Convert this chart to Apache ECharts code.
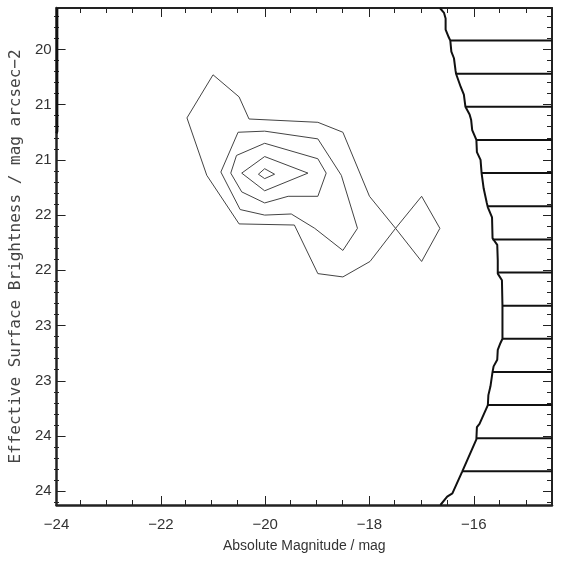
<!DOCTYPE html>
<html>
<head>
<meta charset="utf-8">
<script src="https://cdn.jsdelivr.net/npm/echarts@6/dist/echarts.min.js"></script>
<style>
body { margin: 0; padding: 0; background: #fff; }
#chart { width: 561px; height: 563px; }
</style>
</head>
<body>
<div id="chart"></div>
<script>
// axis extents and tick positions
const xRange = [-24, -14.5];
const yRange = [19.625, 24.125];
const xMajorTicks = [-24, -22, -20, -18, -16];
const yMajorTicks = [20, 20.5, 21, 21.5, 22, 22.5, 23, 23.5, 24];

// density contours, [absolute mag, surface brightness], outer to inner
const contour1 = [
  [-21.00, 20.23], [-20.50, 20.43], [-20.31, 20.63], [-18.99, 20.66], [-18.51, 20.75],
  [-18.00, 21.33], [-17.50, 21.62], [-17.00, 21.92], [-16.65, 21.62], [-17.00, 21.33],
  [-17.50, 21.62], [-17.99, 21.92], [-18.51, 22.06], [-18.99, 22.03], [-19.44, 21.59],
  [-20.50, 21.58], [-21.12, 21.14], [-21.50, 20.62], [-21.00, 20.23]
];
const contour2 = [
  [-20.52, 20.75], [-20.01, 20.74], [-18.99, 20.81], [-18.54, 21.14], [-18.23, 21.62],
  [-18.51, 21.82], [-19.05, 21.62], [-19.50, 21.49], [-20.01, 21.50], [-20.48, 21.45],
  [-20.85, 21.11], [-20.52, 20.75]
];
const contour3 = [
  [-20.55, 20.96], [-20.01, 20.85], [-18.99, 20.99], [-18.83, 21.12], [-18.99, 21.33],
  [-19.56, 21.33], [-20.01, 21.39], [-20.45, 21.29], [-20.66, 21.12], [-20.55, 20.96]
];
const contour4 = [
  [-20.01, 20.97], [-19.18, 21.12], [-20.01, 21.28], [-20.45, 21.12], [-20.01, 20.97]
];
const contour5 = [
  [-20.01, 21.08], [-19.82, 21.13], [-20.01, 21.17], [-20.13, 21.13], [-20.01, 21.08]
];

// faint-end selection limit (right) and bright-end limit (left)
const faintLimit = [
  [-16.65, 19.625], [-16.57, 19.67], [-16.54, 19.72], [-16.54, 19.82], [-16.48, 19.89],
  [-16.45, 19.92], [-16.43, 20.02], [-16.38, 20.08], [-16.35, 20.19], [-16.34, 20.22],
  [-16.25, 20.34], [-16.19, 20.41], [-16.16, 20.52], [-16.08, 20.59], [-16.05, 20.64],
  [-16.03, 20.73], [-15.95, 20.82], [-15.94, 20.93], [-15.87, 21.00], [-15.85, 21.12],
  [-15.81, 21.26], [-15.75, 21.39], [-15.73, 21.43], [-15.65, 21.52], [-15.64, 21.71],
  [-15.55, 21.77], [-15.54, 21.91], [-15.54, 22.03], [-15.46, 22.09], [-15.45, 22.32],
  [-15.45, 22.62], [-15.49, 22.66], [-15.54, 22.72], [-15.55, 22.81], [-15.62, 22.87],
  [-15.64, 22.92], [-15.68, 23.05], [-15.72, 23.13], [-15.73, 23.22], [-15.89, 23.39],
  [-15.94, 23.42], [-15.95, 23.53], [-16.22, 23.82], [-16.41, 24.02], [-16.51, 24.05],
  [-16.64, 24.125]
];
const brightLimit = [[-23.99, 19.625], [-23.99, 20.74], [-24.0, 20.76]];

// hatching to the right of the faint limit
const hatchY = [19.92, 20.22, 20.52, 20.82, 21.12, 21.42, 21.72, 22.02, 22.32, 22.62, 22.92, 23.22, 23.52, 23.82];
const hatchX = [-16.45, -16.34, -16.16, -15.95, -15.85, -15.73, -15.64, -15.54, -15.45, -15.45, -15.64, -15.73, -15.95, -16.22];

function minorTicks(from, to, step, majors) {
  const out = [];
  for (let v = from; v <= to + 1e-9; v += step) {
    const r = Math.round(v * 1000) / 1000;
    if (!majors.some(m => Math.abs(m - r) < 1e-6)) out.push(r);
  }
  return out;
}
const xMinorTicks = minorTicks(-24, -14.5, 0.5, xMajorTicks);
const yMinorTicks = minorTicks(19.7, 24.1, 0.1, yMajorTicks);

const ink = "#222";
const textColor = "#333";
const gridBox = { left: 54, top: 8, right: 9, bottom: 58 };

function xAxis(gridIndex, position, ticks, len, labels, lineWidth) {
  return {
    type: "value", gridIndex: gridIndex, position: position,
    min: xRange[0], max: xRange[1],
    axisLine: { show: lineWidth > 0, lineStyle: { color: ink, width: lineWidth } },
    axisTick: { show: true, inside: true, length: len, customValues: ticks, lineStyle: { color: ink, width: 1 } },
    axisLabel: labels ? {
      show: true, customValues: ticks, margin: 12, color: textColor,
      fontFamily: "Liberation Sans", fontSize: 15,
      formatter: v => String(v).replace("-", "\u2212"),
    } : { show: false },
    splitLine: { show: false },
  };
}
function yAxis(gridIndex, position, ticks, len, labels, lineWidth) {
  return {
    type: "value", gridIndex: gridIndex, position: position, inverse: true,
    min: yRange[0], max: yRange[1],
    axisLine: { show: lineWidth > 0, lineStyle: { color: ink, width: lineWidth } },
    axisTick: { show: true, inside: true, length: len, customValues: ticks, lineStyle: { color: ink, width: 1 } },
    axisLabel: labels ? {
      show: true, customValues: ticks, margin: 5, color: textColor,
      fontFamily: "Liberation Sans", fontSize: 15,
      formatter: v => String(Math.round(v)),
    } : { show: false },
    splitLine: { show: false },
  };
}

function line(data, color, width) {
  return {
    type: "line", xAxisIndex: 0, yAxisIndex: 0, data: data,
    showSymbol: false, symbol: "none", silent: true, animation: false,
    lineStyle: { color: color, width: width },
  };
}

const series = [
  line(contour1, "#444", 1),
  line(contour2, "#444", 1),
  line(contour3, "#444", 1),
  line(contour4, "#444", 1),
  line(contour5, "#444", 1),
  line(faintLimit, "#111", 2),
  line(brightLimit, "#111", 2.5),
];
hatchY.forEach((y, i) => {
  series.push(line([[hatchX[i], y], [xRange[1], y]], "#111", 2));
});

const bottomMajor = xAxis(0, "bottom", xMajorTicks, 9, true, 2.5);
bottomMajor.name = "Absolute Magnitude / mag";
bottomMajor.nameLocation = "middle";
bottomMajor.nameGap = 34;
bottomMajor.nameTextStyle = { color: textColor, fontFamily: "Liberation Sans", fontSize: 14 };

const leftMajor = yAxis(0, "left", yMajorTicks, 9, true, 2.5);
leftMajor.name = "Effective Surface Brightness / mag arcsec\u22122";
leftMajor.nameLocation = "middle";
leftMajor.nameGap = 27;
leftMajor.nameTextStyle = { color: "#444", fontFamily: "DejaVu Sans Mono", fontSize: 16 };

const option = {
  animation: false,
  backgroundColor: "#fff",
  grid: [Object.assign({}, gridBox), Object.assign({}, gridBox)],
  xAxis: [
    bottomMajor,
    xAxis(0, "top", xMajorTicks, 9, false, 2),
    xAxis(1, "bottom", xMinorTicks, 5, false, 0),
    xAxis(1, "top", xMinorTicks, 5, false, 0),
  ],
  yAxis: [
    leftMajor,
    yAxis(0, "right", yMajorTicks, 9, false, 2),
    yAxis(1, "left", yMinorTicks, 5, false, 0),
    yAxis(1, "right", yMinorTicks, 5, false, 0),
  ],
  series: series,
};

const chart = echarts.init(document.getElementById("chart"));
chart.setOption(option);
</script>
</body>
</html>
